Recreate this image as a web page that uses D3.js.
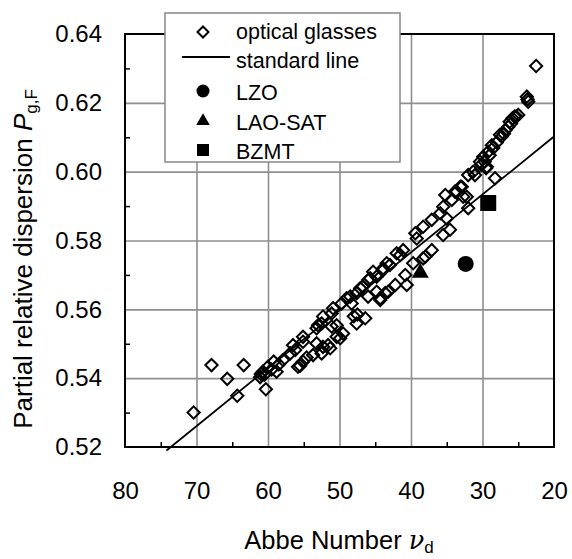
<!DOCTYPE html>
<html><head><meta charset="utf-8">
<script src="https://cdn.jsdelivr.net/npm/d3@7"></script>
<style>html,body{margin:0;padding:0;background:#fff;} svg{display:block;font-family:"Liberation Sans",Arial,sans-serif;}</style>
</head><body>
<svg id="chart" width="572" height="559"></svg>
<script>
// ---- data ----
const glassNu = [70.4,67.9,65.7,63.4,64.3,60.3,61.1,60.7,60.0,59.2,58.8,57.9,56.9,56.2,55.8,55.1,55.1,53.7,52.5,53.2,52.5,51.3,51.1,50.4,50.4,
  59.5,58.5,60.5,61.0,55.5,54.6,
  37.1,38.3,39.7,40.8,42.2,40.6,43.2,44.3,46.4,47.6,49.5,49.9,51.1,51.6,53.2,52.3,48.0,47.5,
  35.5,37.1,38.3,39.4,41.1,42.0,43.4,43.9,45.3,46.0,47.1,48.5,49.7,50.9,52.3,53.0,55.1,56.5,
  29.0,29.7,30.2,29.5,31.05,32.0,28.25,32.9,33.6,32.2,35.2,34.3,32.0,35.9,35.0,34.55,35.5,39.2,41.5,38.0,42.95,43.9,44.8,45.7,46.7,44.8,43.6,47.6,46.0,44.3,49.0,48.3,
  22.5,23.8,23.6,23.7,25.5,26.2,26.4,25.8,27.3,27.55,28.0,28.5,28.7,29.2,29.9,30.35,29.4,31.3,33.1,33.85,32.7,25.0,25.3,26.0,26.8,27.0];
const glassP = [0.5300,0.5438,0.5398,0.5438,0.5349,0.5368,0.5403,0.5419,0.5433,0.5448,0.5419,0.5453,0.5472,0.5482,0.5433,0.5448,0.5506,0.5467,0.5472,0.5545,0.5559,0.5487,0.5588,0.5554,0.5520,
  0.5425,0.5440,0.5410,0.5412,0.5436,0.5460,
  0.5772,0.5748,0.5734,0.5700,0.5671,0.5671,0.5651,0.5632,0.5574,0.5559,0.5530,0.5516,0.5550,0.5496,0.5501,0.5491,0.5580,0.5585,
  0.5898,0.5860,0.5840,0.5821,0.5772,0.5763,0.5734,0.5714,0.5709,0.5685,0.5661,0.5637,0.5617,0.5603,0.5579,0.5554,0.5520,0.5496,
  0.6048,0.6029,0.6020,0.6010,0.5990,0.5990,0.5981,0.5956,0.5942,0.5927,0.5932,0.5918,0.5894,0.5879,0.5864,0.5831,0.5816,0.5806,0.5758,0.5753,0.5729,0.5719,0.5695,0.5690,0.5666,0.5651,0.5647,0.5647,0.5637,0.5627,0.5632,0.5617,
  0.6307,0.6218,0.6203,0.6210,0.6160,0.6145,0.6130,0.6155,0.6102,0.6107,0.6085,0.6069,0.6077,0.6058,0.6043,0.6029,0.6014,0.6000,0.5956,0.5942,0.5927,0.6165,0.6160,0.6140,0.6120,0.6110];
const standardNu = [74.2, 20];
const standardP = [0.5190, 0.6102];
const specialNames = ["LZO","LAO-SAT","BZMT"];
const specialNu = [32.35, 38.7, 29.2];
const specialP = [0.5732, 0.5706, 0.5909];
const xTicks = [80,70,60,50,40,30,20];
const yTicks = [0.52,0.54,0.56,0.58,0.60,0.62,0.64];
const legendLabels = ["optical glasses","standard line","LZO","LAO-SAT","BZMT"];

// ---- layout ----
const svg = d3.select("#chart");
const L=125,R=554,T=34,B=447;
const x = d3.scaleLinear().domain([80,20]).range([L,R]);
const y = d3.scaleLinear().domain([0.52,0.64]).range([B,T]);
const gridCol="#8f8f8f";
const font="Liberation Sans, Arial, sans-serif";

// grid
svg.append("g").attr("transform",`translate(0,${B})`)
  .call(d3.axisBottom(x).tickValues([70,60,50,40,30]).tickSize(-(B-T)).tickFormat(""))
  .call(g=>{g.select(".domain").remove(); g.selectAll("line").attr("stroke",gridCol).attr("stroke-width",1.6);});
svg.append("g").attr("transform",`translate(${L},0)`)
  .call(d3.axisLeft(y).tickValues([0.54,0.56,0.58,0.60,0.62]).tickSize(-(R-L)).tickFormat(""))
  .call(g=>{g.select(".domain").remove(); g.selectAll("line").attr("stroke",gridCol).attr("stroke-width",1.6);});
// minor ticks
svg.append("g").attr("transform",`translate(0,${B})`)
  .call(d3.axisBottom(x).tickValues([75,65,55,45,35,25]).tickSize(-5).tickFormat(""))
  .call(g=>{g.select(".domain").remove(); g.selectAll("line").attr("stroke","#000").attr("stroke-width",1.5);});
svg.append("g").attr("transform",`translate(${L},0)`)
  .call(d3.axisLeft(y).tickValues([0.53,0.55,0.57,0.59,0.61,0.63]).tickSize(-5).tickFormat(""))
  .call(g=>{g.select(".domain").remove(); g.selectAll("line").attr("stroke","#000").attr("stroke-width",1.5);});
// labels
svg.append("g").attr("transform",`translate(0,${B})`)
  .call(d3.axisBottom(x).tickValues(xTicks).tickSize(0).tickPadding(35).tickFormat(d3.format("d")))
  .call(g=>{g.select(".domain").remove(); g.selectAll("text").attr("font-size",24).attr("fill","#000").attr("font-family",font);});
svg.append("g").attr("transform",`translate(${L},0)`)
  .call(d3.axisLeft(y).tickValues(yTicks).tickSize(0).tickPadding(23).tickFormat(d3.format(".2f")))
  .call(g=>{g.select(".domain").remove(); g.selectAll("text").attr("font-size",24).attr("fill","#000").attr("font-family",font);});

// frame
svg.append("rect").attr("x",L).attr("y",T).attr("width",R-L).attr("height",B-T)
  .attr("fill","none").attr("stroke","#000").attr("stroke-width",2);

// standard line
svg.append("path").datum(standardNu.map((v,i)=>[v,standardP[i]]))
  .attr("d",d3.line().x(d=>x(d[0])).y(d=>y(d[1])))
  .attr("fill","none").attr("stroke","#000").attr("stroke-width",1.8);

// glasses
const diamond = d3.symbol().type(d3.symbolSquare).size(75);
svg.append("g").selectAll("path").data(glassNu.map((v,i)=>[v,glassP[i]])).join("path")
  .attr("d",diamond)
  .attr("transform",d=>`translate(${x(d[0])},${y(d[1])}) rotate(45)`)
  .attr("fill","none").attr("stroke","#000").attr("stroke-width",2);

// special materials
const shapes=[d3.symbolCircle,d3.symbolTriangle,d3.symbolSquare];
const sizes=[201,125,256];
svg.append("g").selectAll("path").data(specialNames).join("path")
  .attr("d",(d,i)=>d3.symbol().type(shapes[i]).size(sizes[i])())
  .attr("transform",(d,i)=>`translate(${x(specialNu[i])},${y(specialP[i])})`)
  .attr("fill","#000");

// legend
const lg = svg.append("g");
lg.append("rect").attr("x",165).attr("y",13).attr("width",235).attr("height",149)
  .attr("fill","#fff").attr("stroke","#888").attr("stroke-width",1.5);
const rowY=[32,57,91,121,150];
const baseY=[38.5,68,100,129.5,159];
lg.append("path").attr("d",d3.symbol().type(d3.symbolSquare).size(60)())
  .attr("transform",`translate(203,${rowY[0]}) rotate(45)`).attr("fill","none").attr("stroke","#000").attr("stroke-width",2);
lg.append("line").attr("x1",182).attr("x2",230).attr("y1",rowY[1]).attr("y2",rowY[1]).attr("stroke","#000").attr("stroke-width",1.8);
lg.append("path").attr("d",d3.symbol().type(d3.symbolCircle).size(133)()).attr("transform",`translate(203,${rowY[2]})`).attr("fill","#000");
lg.append("path").attr("d",d3.symbol().type(d3.symbolTriangle).size(80)()).attr("transform",`translate(203,${rowY[3]})`).attr("fill","#000");
lg.append("path").attr("d",d3.symbol().type(d3.symbolSquare).size(144)()).attr("transform",`translate(203,${rowY[4]})`).attr("fill","#000");
lg.selectAll("text").data(legendLabels).join("text")
  .attr("x",236).attr("y",(d,i)=>baseY[i]).attr("font-size",21.5).attr("fill","#000").text(d=>d);

// axis titles
const xt = svg.append("text").attr("x",339).attr("y",549).attr("text-anchor","middle").attr("font-size",25.5).attr("fill","#000");
xt.append("tspan").text("Abbe Number  ");
xt.append("tspan").attr("font-style","italic").attr("font-family","DejaVu Serif, serif").text("ν");
xt.append("tspan").attr("font-size",17).attr("dy",4).text("d");

const yt = svg.append("text").attr("transform","translate(32,259) rotate(-90)").attr("text-anchor","middle").attr("font-size",26).attr("fill","#000");
yt.append("tspan").text("Partial relative dispersion ");
yt.append("tspan").attr("font-style","italic").text("P");
yt.append("tspan").attr("font-size",17).attr("dy",5).text("g,F");
</script>
</body></html>
